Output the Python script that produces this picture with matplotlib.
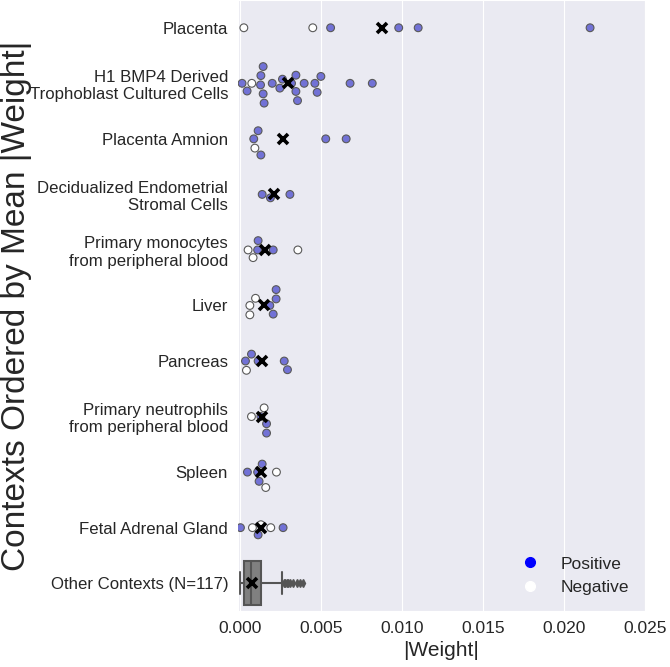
import numpy as np
import pandas as pd
import matplotlib
matplotlib.use("Agg")
import matplotlib.pyplot as plt
from matplotlib.lines import Line2D
import seaborn as sns

categories = [
    "Placenta",
    "H1 BMP4 Derived\nTrophoblast Cultured Cells",
    "Placenta Amnion",
    "Decidualized Endometrial\nStromal Cells",
    "Primary monocytes\nfrom peripheral blood",
    "Liver",
    "Pancreas",
    "Primary neutrophils\nfrom peripheral blood",
    "Spleen",
    "Fetal Adrenal Gland",
    "Other Contexts (N=117)",
]

positive_values = [
    [0.0056, 0.0098, 0.0110, 0.0216],
    [0.00014, 0.00045, 0.00128, 0.0013, 0.00144, 0.00144, 0.0015, 0.0020,
     0.00247, 0.00263, 0.00319, 0.00346, 0.00346, 0.00356, 0.00397, 0.00463,
     0.00477, 0.0050, 0.0068, 0.00817],
    [0.00086, 0.0013, 0.00113, 0.0053, 0.00656],
    [0.00138, 0.00189, 0.00309],
    [0.00113, 0.0011, 0.00206],
    [0.00185, 0.00206, 0.00224, 0.00224],
    [0.00035, 0.00072, 0.00113, 0.00274, 0.00294],
    [0.0013, 0.00165, 0.00165],
    [0.00047, 0.00119, 0.0011, 0.00138],
    [0.00004, 0.00113, 0.00267],
]
negative_values = [
    [0.00025, 0.0045],
    [0.00074],
    [0.00093],
    [],
    [0.00051, 0.00082, 0.00358],
    [0.00062, 0.00062, 0.00097],
    [0.00041],
    [0.00072, 0.0015],
    [0.0016, 0.00226],
    [0.00078, 0.0013, 0.00191],
]

# Summary of the "Other Contexts" distribution (boxplot statistics)
other_q1 = 0.00025
other_median = 0.00068
other_q3 = 0.0013
other_whislo = 0.0
other_whishi = 0.00261
other_mean = 0.00078
other_fliers = [0.0027, 0.0028, 0.0029, 0.0030, 0.0031, 0.0033, 0.0035, 0.0037, 0.0039]

rows = []
for cat, pos, neg in zip(categories, positive_values, negative_values):
    for v in pos:
        rows.append((cat, v, "Positive"))
    for v in neg:
        rows.append((cat, v, "Negative"))
df = pd.DataFrame(rows, columns=["context", "weight", "sign"])

sns.set_style("darkgrid")
plt.rcParams["font.family"] = ["Liberation Sans", "DejaVu Sans"]

fig = plt.figure(figsize=(6.70, 6.67), dpi=100)
ax = fig.add_axes([0.355, 0.084, 0.608, 0.916])

sns.swarmplot(data=df, x="weight", y="context", hue="sign", order=categories,
              hue_order=["Positive", "Negative"],
              palette={"Positive": "#7272D6", "Negative": "white"},
              size=5.6, edgecolor="0.35", linewidth=0.8, legend=False, ax=ax)

# means
means = [np.mean(p + n) for p, n in zip(positive_values, negative_values)]
ax.plot(means, list(range(len(means))), linestyle="none", marker="x",
        markersize=7.5, mew=2.6, color="black", zorder=5)

# boxplot for other contexts
stats = [dict(q1=other_q1, med=other_median, q3=other_q3, whislo=other_whislo,
              whishi=other_whishi, fliers=other_fliers, mean=other_mean,
              label="")]
ax.bxp(stats, positions=[10], widths=0.8, orientation="horizontal",
       patch_artist=True, showmeans=True, manage_ticks=False,
       boxprops=dict(facecolor="#808080", edgecolor="#555555", linewidth=1.5),
       medianprops=dict(color="#555555", linewidth=1.5),
       whiskerprops=dict(color="#555555", linewidth=1.5),
       capprops=dict(color="#555555", linewidth=1.5),
       flierprops=dict(marker="d", markerfacecolor="#555555",
                       markeredgecolor="#555555", markersize=4),
       meanprops=dict(marker="x", markersize=7.5, markeredgewidth=2.6,
                      markeredgecolor="black"))

ax.set_yticks(range(len(categories)))
ax.set_yticklabels(categories)
ax.set_ylim(10.5, -0.5)
ax.set_xlim(-0.00012, 0.025)
ax.set_xticks([0.0, 0.005, 0.010, 0.015, 0.020, 0.025])
ax.set_xticklabels(["0.000", "0.005", "0.010", "0.015", "0.020", "0.025"])
ax.tick_params(axis="x", labelsize=12.5, colors=".15")
ax.tick_params(axis="y", labelsize=12.1, colors=".15")
ax.yaxis.grid(False)
ax.set_xlabel("|Weight|", fontsize=15, color=".15")
ax.set_ylabel("Contexts Ordered by Mean |Weight|", fontsize=24, color=".15")
ax.yaxis.set_label_coords(-0.505, 0.5)

handles = [
    Line2D([], [], marker="o", linestyle="none", markerfacecolor="blue",
           markeredgecolor="blue", markersize=7),
    Line2D([], [], marker="o", linestyle="none", markerfacecolor="white",
           markeredgecolor="white", markersize=7),
]
ax.legend(handles, ["Positive", "Negative"], loc="lower right", frameon=False,
          fontsize=12.5)

fig.savefig("out.png", dpi=100)
